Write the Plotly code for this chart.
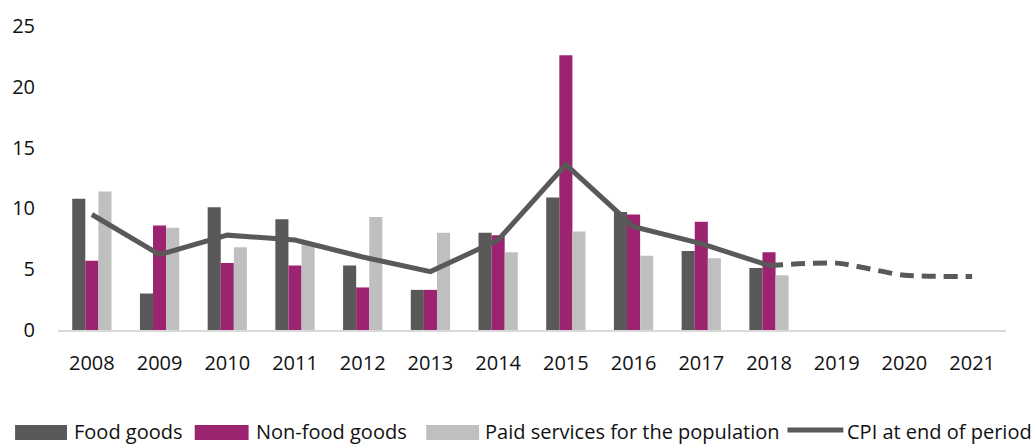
import plotly.graph_objects as go

# Consumer price growth by component, % year on year
years = ["2008", "2009", "2010", "2011", "2012", "2013", "2014",
         "2015", "2016", "2017", "2018", "2019", "2020", "2021"]
bar_years = years[:11]
food_goods = [10.8, 3.0, 10.1, 9.1, 5.3, 3.3, 8.0, 10.9, 9.7, 6.5, 5.1]
non_food_goods = [5.7, 8.6, 5.5, 5.3, 3.5, 3.3, 7.8, 22.6, 9.5, 8.9, 6.4]
paid_services = [11.4, 8.4, 6.8, 7.1, 9.3, 8.0, 6.4, 8.1, 6.1, 5.9, 4.5]

cpi_years = years[:11]
cpi_end_period = [9.5, 6.2, 7.8, 7.4, 6.0, 4.8, 7.4, 13.6, 8.5, 7.1, 5.3]
forecast_years = years[10:]
cpi_forecast = [5.3, 5.5, 4.5, 4.4]

legend_labels = ["Food goods", "Non-food goods",
                 "Paid services for the population", "CPI at end of period"]

C_FOOD = "#595959"
C_NONFOOD = "#9B2370"
C_PAID = "#BFBFBF"
C_CPI = "#595959"
FONT = "Open Sans"

W, H = 1035, 445
ML, MR, MT, MB = 56, 29, 23, 115
PW, PH = W - ML - MR, H - MT - MB


def px_x(p):
    return (p - ML) / PW


def px_y(p):
    return (H - MB - p) / PH


fig = go.Figure()
fig.add_trace(go.Bar(x=bar_years, y=food_goods, name=legend_labels[0],
                     marker_color=C_FOOD, marker_line_width=0))
fig.add_trace(go.Bar(x=bar_years, y=non_food_goods, name=legend_labels[1],
                     marker_color=C_NONFOOD, marker_line_width=0))
fig.add_trace(go.Bar(x=bar_years, y=paid_services, name=legend_labels[2],
                     marker_color=C_PAID, marker_line_width=0))
fig.add_trace(go.Scatter(x=cpi_years, y=cpi_end_period, mode="lines",
                         name=legend_labels[3],
                         line=dict(color=C_CPI, width=5)))
fig.add_trace(go.Scatter(x=forecast_years, y=cpi_forecast, mode="lines",
                         showlegend=False,
                         line=dict(color=C_CPI, width=5, dash="14px,8px",
                                   shape="spline", smoothing=0.6)))

# Legend drawn along the bottom edge
legend_items = [
    ("bar", C_FOOD, 13, 65, 70),
    ("bar", C_NONFOOD, 193, 247, 252),
    ("bar", C_PAID, 425, 478, 482),
    ("line", C_CPI, 787, 843, 845),
]
shapes = []
annotations = []
ty = 432
for (kind, color, x0, x1, tx), label in zip(legend_items, legend_labels):
    if kind == "bar":
        shapes.append(dict(type="rect", xref="paper", yref="paper",
                           x0=px_x(x0), x1=px_x(x1), y0=px_y(426), y1=px_y(441),
                           fillcolor=color, line_width=0))
    else:
        shapes.append(dict(type="line", xref="paper", yref="paper",
                           x0=px_x(x0), x1=px_x(x1), y0=px_y(431), y1=px_y(431),
                           line=dict(color=color, width=5)))
    annotations.append(dict(text=label, xref="paper", yref="paper",
                            x=px_x(tx), y=px_y(ty), xanchor="left",
                            yanchor="middle", showarrow=False,
                            font=dict(family=FONT, size=20, color="#111111")))

fig.update_layout(
    width=W, height=H,
    margin=dict(l=ML, r=MR, t=MT, b=MB),
    paper_bgcolor="white", plot_bgcolor="white",
    barmode="group", bargap=0.42, bargroupgap=0,
    showlegend=False,
    font=dict(family=FONT, size=20, color="#111111"),
    shapes=shapes, annotations=annotations,
)
fig.update_xaxes(type="category", categoryorder="array", categoryarray=years,
                 range=[-0.5, len(years) - 0.5],
                 showline=True, linecolor="#D9D9D9", linewidth=2,
                 showgrid=False, zeroline=False, ticks="",
                 ticklabelstandoff=14,
                 tickfont=dict(family=FONT, size=20, color="#111111"))
fig.update_yaxes(range=[0, 25], dtick=5, tick0=0,
                 showline=False, showgrid=False, zeroline=False, ticks="",
                 ticklabelstandoff=22,
                 tickfont=dict(family=FONT, size=20, color="#111111"))

fig.write_html("out.html")
